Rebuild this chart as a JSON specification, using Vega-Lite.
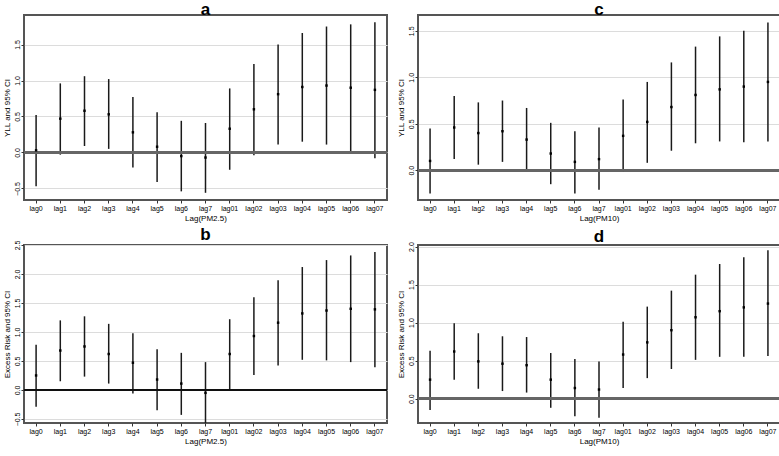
{
  "$schema": "https://vega.github.io/schema/vega-lite/v6.json",
  "padding": {"left": 2, "top": 0, "right": 1, "bottom": 1},
  "background": "white",
  "data": {"values": [
    {"panel":"a","lag":"lag0","lower":-0.47,"est":0.03,"upper":0.52},
    {"panel":"a","lag":"lag1","lower":-0.03,"est":0.47,"upper":0.96},
    {"panel":"a","lag":"lag2","lower":0.09,"est":0.58,"upper":1.06},
    {"panel":"a","lag":"lag3","lower":0.05,"est":0.53,"upper":1.02},
    {"panel":"a","lag":"lag4","lower":-0.21,"est":0.28,"upper":0.77},
    {"panel":"a","lag":"lag5","lower":-0.41,"est":0.08,"upper":0.56},
    {"panel":"a","lag":"lag6","lower":-0.54,"est":-0.05,"upper":0.44},
    {"panel":"a","lag":"lag7","lower":-0.56,"est":-0.07,"upper":0.41},
    {"panel":"a","lag":"lag01","lower":-0.24,"est":0.33,"upper":0.89},
    {"panel":"a","lag":"lag02","lower":-0.04,"est":0.60,"upper":1.23},
    {"panel":"a","lag":"lag03","lower":0.11,"est":0.81,"upper":1.50},
    {"panel":"a","lag":"lag04","lower":0.15,"est":0.91,"upper":1.66},
    {"panel":"a","lag":"lag05","lower":0.11,"est":0.93,"upper":1.75},
    {"panel":"a","lag":"lag06","lower":0.02,"est":0.90,"upper":1.78},
    {"panel":"a","lag":"lag07","lower":-0.08,"est":0.87,"upper":1.81},

    {"panel":"c","lag":"lag0","lower":-0.25,"est":0.10,"upper":0.45},
    {"panel":"c","lag":"lag1","lower":0.12,"est":0.46,"upper":0.80},
    {"panel":"c","lag":"lag2","lower":0.06,"est":0.40,"upper":0.73},
    {"panel":"c","lag":"lag3","lower":0.09,"est":0.42,"upper":0.75},
    {"panel":"c","lag":"lag4","lower":0.00,"est":0.33,"upper":0.67},
    {"panel":"c","lag":"lag5","lower":-0.15,"est":0.18,"upper":0.51},
    {"panel":"c","lag":"lag6","lower":-0.25,"est":0.09,"upper":0.42},
    {"panel":"c","lag":"lag7","lower":-0.21,"est":0.12,"upper":0.46},
    {"panel":"c","lag":"lag01","lower":-0.02,"est":0.37,"upper":0.76},
    {"panel":"c","lag":"lag02","lower":0.08,"est":0.52,"upper":0.95},
    {"panel":"c","lag":"lag03","lower":0.21,"est":0.68,"upper":1.16},
    {"panel":"c","lag":"lag04","lower":0.29,"est":0.81,"upper":1.33},
    {"panel":"c","lag":"lag05","lower":0.31,"est":0.87,"upper":1.44},
    {"panel":"c","lag":"lag06","lower":0.30,"est":0.90,"upper":1.50},
    {"panel":"c","lag":"lag07","lower":0.31,"est":0.95,"upper":1.59},

    {"panel":"b","lag":"lag0","lower":-0.29,"est":0.25,"upper":0.78},
    {"panel":"b","lag":"lag1","lower":0.15,"est":0.68,"upper":1.20},
    {"panel":"b","lag":"lag2","lower":0.23,"est":0.75,"upper":1.27},
    {"panel":"b","lag":"lag3","lower":0.11,"est":0.62,"upper":1.14},
    {"panel":"b","lag":"lag4","lower":-0.06,"est":0.47,"upper":0.98},
    {"panel":"b","lag":"lag5","lower":-0.35,"est":0.18,"upper":0.70},
    {"panel":"b","lag":"lag6","lower":-0.43,"est":0.11,"upper":0.64},
    {"panel":"b","lag":"lag7","lower":-0.57,"est":-0.05,"upper":0.48},
    {"panel":"b","lag":"lag01","lower":0.00,"est":0.62,"upper":1.22},
    {"panel":"b","lag":"lag02","lower":0.26,"est":0.93,"upper":1.60},
    {"panel":"b","lag":"lag03","lower":0.42,"est":1.16,"upper":1.89},
    {"panel":"b","lag":"lag04","lower":0.52,"est":1.32,"upper":2.12},
    {"panel":"b","lag":"lag05","lower":0.51,"est":1.37,"upper":2.24},
    {"panel":"b","lag":"lag06","lower":0.48,"est":1.40,"upper":2.32},
    {"panel":"b","lag":"lag07","lower":0.39,"est":1.39,"upper":2.38},

    {"panel":"d","lag":"lag0","lower":-0.15,"est":0.25,"upper":0.63},
    {"panel":"d","lag":"lag1","lower":0.25,"est":0.62,"upper":0.99},
    {"panel":"d","lag":"lag2","lower":0.13,"est":0.49,"upper":0.86},
    {"panel":"d","lag":"lag3","lower":0.10,"est":0.46,"upper":0.82},
    {"panel":"d","lag":"lag4","lower":0.08,"est":0.44,"upper":0.81},
    {"panel":"d","lag":"lag5","lower":-0.12,"est":0.25,"upper":0.60},
    {"panel":"d","lag":"lag6","lower":-0.23,"est":0.14,"upper":0.52},
    {"panel":"d","lag":"lag7","lower":-0.25,"est":0.12,"upper":0.49},
    {"panel":"d","lag":"lag01","lower":0.14,"est":0.58,"upper":1.01},
    {"panel":"d","lag":"lag02","lower":0.27,"est":0.74,"upper":1.21},
    {"panel":"d","lag":"lag03","lower":0.39,"est":0.90,"upper":1.42},
    {"panel":"d","lag":"lag04","lower":0.51,"est":1.07,"upper":1.63},
    {"panel":"d","lag":"lag05","lower":0.55,"est":1.15,"upper":1.77},
    {"panel":"d","lag":"lag06","lower":0.55,"est":1.20,"upper":1.86},
    {"panel":"d","lag":"lag07","lower":0.56,"est":1.25,"upper":1.95}
  ]},
  "columns": 2,
  "spacing": {"row": 2, "column": 6},
  "concat": [
    {
      "title": "a",
      "width": 363, "height": 185,
      "transform": [{"filter": "datum.panel === 'a'"}],
      "layer": [
        {"mark": {"type": "rule", "color": "#1a1a1a", "strokeWidth": 1.5},
         "encoding": {
           "x": {"field": "lag", "type": "nominal", "sort": ["lag0","lag1","lag2","lag3","lag4","lag5","lag6","lag7","lag01","lag02","lag03","lag04","lag05","lag06","lag07"], "title": "Lag(PM2.5)"},
           "y": {"field": "lower", "type": "quantitative", "title": "YLL and 95% CI", "scale": {"domain": [-0.66, 1.91], "nice": false, "zero": false}, "axis": {"values": [-0.5, 0, 0.5, 1, 1.5], "tickCount": 20, "format": ".1f", "labelOverlap": false}},
           "y2": {"field": "upper"}}},
        {"mark": {"type": "rule", "color": "#666", "strokeWidth": 2.2},
         "encoding": {"y": {"datum": 0, "type": "quantitative"}}},
        {"mark": {"type": "point", "shape": "square", "filled": true, "size": 6, "color": "#000", "opacity": 1},
         "encoding": {
           "x": {"field": "lag", "type": "nominal", "sort": ["lag0","lag1","lag2","lag3","lag4","lag5","lag6","lag7","lag01","lag02","lag03","lag04","lag05","lag06","lag07"]},
           "y": {"field": "est", "type": "quantitative"}}}
      ]
    },
    {
      "title": "c",
      "width": 362, "height": 185,
      "transform": [{"filter": "datum.panel === 'c'"}],
      "layer": [
        {"mark": {"type": "rule", "color": "#1a1a1a", "strokeWidth": 1.5},
         "encoding": {
           "x": {"field": "lag", "type": "nominal", "sort": ["lag0","lag1","lag2","lag3","lag4","lag5","lag6","lag7","lag01","lag02","lag03","lag04","lag05","lag06","lag07"], "title": "Lag(PM10)"},
           "y": {"field": "lower", "type": "quantitative", "title": "YLL and 95% CI", "scale": {"domain": [-0.32, 1.67], "nice": false, "zero": false}, "axis": {"values": [0, 0.5, 1, 1.5], "tickCount": 20, "format": ".1f", "labelOverlap": false}},
           "y2": {"field": "upper"}}},
        {"mark": {"type": "rule", "color": "#666", "strokeWidth": 2.2},
         "encoding": {"y": {"datum": 0, "type": "quantitative"}}},
        {"mark": {"type": "point", "shape": "square", "filled": true, "size": 6, "color": "#000", "opacity": 1},
         "encoding": {
           "x": {"field": "lag", "type": "nominal", "sort": ["lag0","lag1","lag2","lag3","lag4","lag5","lag6","lag7","lag01","lag02","lag03","lag04","lag05","lag06","lag07"]},
           "y": {"field": "est", "type": "quantitative"}}}
      ]
    },
    {
      "title": "b",
      "width": 363, "height": 178,
      "transform": [{"filter": "datum.panel === 'b'"}],
      "layer": [
        {"mark": {"type": "rule", "color": "#1a1a1a", "strokeWidth": 1.5},
         "encoding": {
           "x": {"field": "lag", "type": "nominal", "sort": ["lag0","lag1","lag2","lag3","lag4","lag5","lag6","lag7","lag01","lag02","lag03","lag04","lag05","lag06","lag07"], "title": "Lag(PM2.5)"},
           "y": {"field": "lower", "type": "quantitative", "title": "Excess Risk and 95% CI", "scale": {"domain": [-0.57, 2.5], "nice": false, "zero": false}, "axis": {"values": [-0.5, 0, 0.5, 1, 1.5, 2, 2.5], "tickCount": 20, "format": ".1f", "labelOverlap": false}},
           "y2": {"field": "upper"}}},
        {"mark": {"type": "rule", "color": "#111", "strokeWidth": 1.6},
         "encoding": {"y": {"datum": 0, "type": "quantitative"}}},
        {"mark": {"type": "point", "shape": "square", "filled": true, "size": 6, "color": "#000", "opacity": 1},
         "encoding": {
           "x": {"field": "lag", "type": "nominal", "sort": ["lag0","lag1","lag2","lag3","lag4","lag5","lag6","lag7","lag01","lag02","lag03","lag04","lag05","lag06","lag07"]},
           "y": {"field": "est", "type": "quantitative"}}}
      ]
    },
    {
      "title": "d",
      "width": 362, "height": 178,
      "transform": [{"filter": "datum.panel === 'd'"}],
      "layer": [
        {"mark": {"type": "rule", "color": "#1a1a1a", "strokeWidth": 1.5},
         "encoding": {
           "x": {"field": "lag", "type": "nominal", "sort": ["lag0","lag1","lag2","lag3","lag4","lag5","lag6","lag7","lag01","lag02","lag03","lag04","lag05","lag06","lag07"], "title": "Lag(PM10)"},
           "y": {"field": "lower", "type": "quantitative", "title": "Excess Risk and 95% CI", "scale": {"domain": [-0.32, 2.02], "nice": false, "zero": false}, "axis": {"values": [0, 0.5, 1, 1.5, 2], "tickCount": 20, "format": ".1f", "labelOverlap": false}},
           "y2": {"field": "upper"}}},
        {"mark": {"type": "rule", "color": "#666", "strokeWidth": 2.2},
         "encoding": {"y": {"datum": 0, "type": "quantitative"}}},
        {"mark": {"type": "point", "shape": "square", "filled": true, "size": 6, "color": "#000", "opacity": 1},
         "encoding": {
           "x": {"field": "lag", "type": "nominal", "sort": ["lag0","lag1","lag2","lag3","lag4","lag5","lag6","lag7","lag01","lag02","lag03","lag04","lag05","lag06","lag07"]},
           "y": {"field": "est", "type": "quantitative"}}}
      ]
    }
  ],
  "config": {
    "font": "Liberation Sans",
    "view": {"stroke": "#555", "strokeWidth": 2},
    "title": {"fontSize": 17, "fontWeight": "bold", "font": "Liberation Sans", "offset": -4, "anchor": "middle", "color": "#000"},
    "axis": {"labelFont": "Liberation Sans", "titleFont": "Liberation Sans", "labelFontSize": 7, "titleFontSize": 8, "titleFontWeight": "normal", "domain": false, "tickColor": "#333", "tickSize": 3, "labelColor": "#000", "titleColor": "#000", "labelOverlap": false},
    "axisY": {"labelAngle": 270, "grid": true, "gridColor": "#dcdcdc", "gridWidth": 1.2, "titlePadding": 2, "labelPadding": 1, "labelOverlap": false},
    "axisX": {"labelAngle": 0, "grid": false, "titlePadding": 3, "labelPadding": 1},
    "bandPaddingInner": 0.3
  }
}
